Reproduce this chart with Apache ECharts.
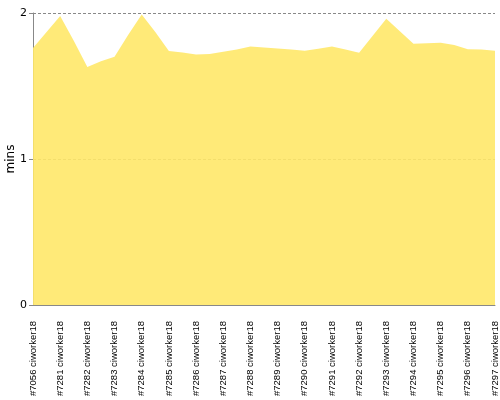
<!DOCTYPE html>
<html>
<head>
<meta charset="utf-8">
<script src="https://cdn.jsdelivr.net/npm/echarts@6/dist/echarts.min.js"></script>
<style>
  html, body { margin: 0; padding: 0; background: #fff; }
  #chart { width: 500px; height: 400px; }
</style>
</head>
<body>
<div id="chart"></div>
<script>
// build labels (one every two samples)
const builds = [
  "#7056 ciworker18", "#7281 ciworker18", "#7282 ciworker18", "#7283 ciworker18",
  "#7284 ciworker18", "#7285 ciworker18", "#7286 ciworker18", "#7287 ciworker18",
  "#7288 ciworker18", "#7289 ciworker18", "#7290 ciworker18", "#7291 ciworker18",
  "#7292 ciworker18", "#7293 ciworker18", "#7294 ciworker18", "#7295 ciworker18",
  "#7296 ciworker18", "#7297 ciworker18"
];
// duration in minutes
const mins = [
  1.76, 1.87, 1.98, 1.81, 1.63, 1.67, 1.70, 1.85, 1.99, 1.87,
  1.74, 1.73, 1.715, 1.72, 1.735, 1.75, 1.77, 1.763, 1.757, 1.75,
  1.742, 1.755, 1.77, 1.75, 1.728, 1.845, 1.96, 1.875, 1.79, 1.792,
  1.797, 1.78, 1.751, 1.75, 1.742
];
const yTicks = [0, 1, 2];

const chart = echarts.init(document.getElementById("chart"));
chart.setOption({
  animation: false,
  grid: { left: 33, right: 5, top: 13, bottom: 95, containLabel: false, outerBoundsMode: "none" },
  xAxis: {
    type: "value",
    min: 0,
    max: mins.length - 1,
    interval: 2,
    axisLine: { lineStyle: { color: "#888" } },
    axisTick: { show: false },
    splitLine: { show: false },
    axisLabel: {
      rotate: 90,
      margin: 16,
      color: "#000",
      fontSize: 9.5,
      fontFamily: "Liberation Sans",
      formatter: (v) => builds[v / 2] || ""
    }
  },
  yAxis: {
    type: "value",
    min: yTicks[0],
    max: yTicks[yTicks.length - 1],
    interval: 1,
    name: "mins",
    nameLocation: "middle",
    nameGap: 16,
    nameMoveOverlap: false,
    nameTextStyle: { color: "#000", fontSize: 12, fontFamily: "DejaVu Sans" },
    axisLine: { show: true, lineStyle: { color: "#888" } },
    axisTick: { show: true, length: 4, lineStyle: { color: "#888" } },
    axisLabel: { color: "#000", fontSize: 11, margin: 6, fontFamily: "DejaVu Sans" },
    splitLine: { lineStyle: { color: "#888", type: [3, 2] } }
  },
  series: [
    {
      type: "line",
      data: mins.map((v, i) => [i, v]),
      showSymbol: false,
      lineStyle: { width: 0 },
      areaStyle: { color: "rgb(255,232,105)", opacity: 0.9 }
    }
  ]
});
</script>
</body>
</html>
